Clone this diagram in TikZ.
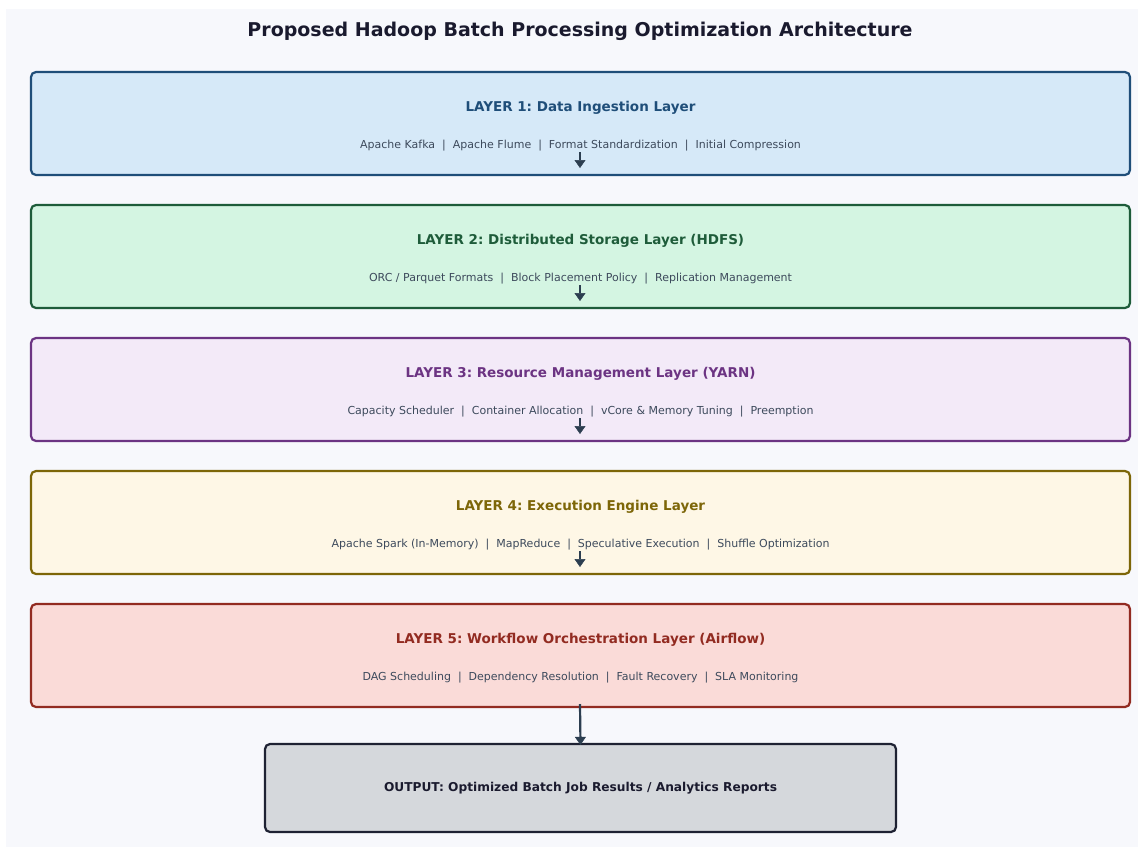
\documentclass[tikz,border=0pt]{standalone}
\usepackage{fontspec}
\setmainfont{DejaVu Sans}
\usetikzlibrary{arrows.meta}
\frenchspacing

\definecolor{panelbg}{HTML}{F7F8FC}
\definecolor{inkdark}{HTML}{1A1A2E}
\definecolor{subink}{HTML}{3D4A5C}
\definecolor{arrowink}{HTML}{2C3E50}
\definecolor{fillA}{HTML}{D6E9F8}\definecolor{lineA}{HTML}{1F4E79}
\definecolor{fillB}{HTML}{D4F5E2}\definecolor{lineB}{HTML}{1E5C3A}
\definecolor{fillC}{HTML}{F3EAF8}\definecolor{lineC}{HTML}{6C3483}
\definecolor{fillD}{HTML}{FEF7E6}\definecolor{lineD}{HTML}{7D6608}
\definecolor{fillE}{HTML}{FADBD8}\definecolor{lineE}{HTML}{922B21}
\definecolor{fillO}{HTML}{D5D8DC}\definecolor{lineO}{HTML}{1E2233}

\newcommand{\sep}{\ \ |\ \ }

\tikzset{
  layerbox/.style={draw=#1, line width=2.2pt, rounded corners=5pt,
    minimum width=1099pt, minimum height=103pt, inner sep=0pt},
  layertitle/.style={font=\bfseries\fontsize{13.5}{16}\selectfont, text=#1, inner sep=0pt},
  layersub/.style={font=\fontsize{11}{13}\selectfont, text=subink, inner sep=0pt},
  flowarrow/.style={draw=arrowink, line width=2.6pt,
    -{Triangle[length=8pt,width=11pt,fill=arrowink,line width=0.5pt]}},
}

\begin{document}
\begin{tikzpicture}[x=1pt, y=-1pt]
  % page and panel
  \fill[white] (0,0) rectangle (1138,847);
  \fill[panelbg] (6,9) rectangle (1138,847);
  \useasboundingbox (0,0) rectangle (1138,847);

  \node[font=\bfseries\fontsize{19}{22}\selectfont, text=inkdark, inner sep=0pt]
    (title) at (580,31) {Proposed Hadoop Batch Processing Optimization Architecture};

  % layers: top edges every 133 units
  \foreach \k/\fc/\lc/\ttl/\sub in {
    1/fillA/lineA/{LAYER 1: Data Ingestion Layer}/{Apache Kafka\sep Apache Flume\sep Format Standardization\sep Initial Compression},
    2/fillB/lineB/{LAYER 2: Distributed Storage Layer (HDFS)}/{ORC / Parquet Formats\sep Block Placement Policy\sep Replication Management},
    3/fillC/lineC/{LAYER 3: Resource Management Layer (YARN)}/{Capacity Scheduler\sep Container Allocation\sep vCore \& Memory Tuning\sep Preemption},
    4/fillD/lineD/{LAYER 4: Execution Engine Layer}/{Apache Spark (In-Memory)\sep MapReduce\sep Speculative Execution\sep Shuffle Optimization},
    5/fillE/lineE/{LAYER 5: Workflow Orchestration Layer (Airflow)}/{DAG Scheduling\sep Dependency Resolution\sep Fault Recovery\sep SLA Monitoring}} {
    \pgfmathsetmacro{\top}{72+133*(\k-1)}
    \node[layerbox=\lc, fill=\fc] (L\k) at (580.5,\top+51.5) {};
    \node[layertitle=\lc] (L\k t) at (580.5,\top+36) {\ttl};
    \node[layersub] (L\k s) at (580.5,\top+74) {\sub};
  }

  % short downward markers under the first four layers
  \foreach \k in {1,...,4} {
    \pgfmathsetmacro{\top}{72+133*(\k-1)}
    \coordinate (m\k a) at (580,\top+80);
    \coordinate (m\k b) at (580,\top+96);
    \draw[flowarrow] (m\k a) -- (m\k b);
  }

  % output box
  \node[draw=lineO, fill=fillO, line width=2.2pt, rounded corners=5pt,
        minimum width=631pt, minimum height=88pt, inner sep=0pt] (out) at (580.5,788) {};
  \node[font=\bfseries\fontsize{12.2}{14}\selectfont, text=inkdark, inner sep=0pt]
    (outt) at (580.5,788) {OUTPUT: Optimized Batch Job Results / Analytics Reports};

  \coordinate (l5o) at (580,704);
  \draw[flowarrow, line width=2.2pt] (l5o) -- ([yshift=-2pt]out.north);
\end{tikzpicture}
\end{document}
